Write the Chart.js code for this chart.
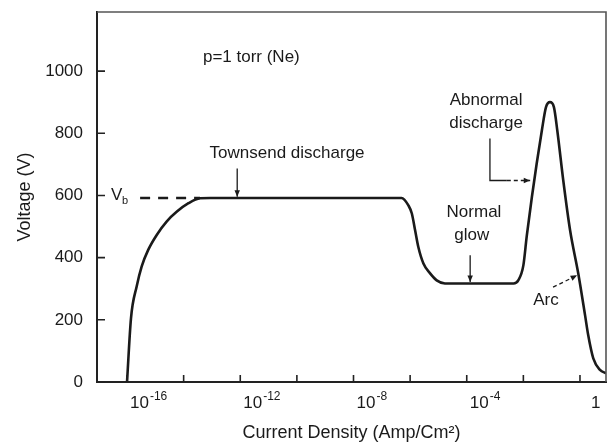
<!DOCTYPE html>
<html>
<head>
<meta charset="utf-8">
<script src="https://cdn.jsdelivr.net/npm/chart.js@4/dist/chart.umd.min.js"></script>
<style>
  html, body { margin: 0; padding: 0; background: #fff; }
</style>
</head>
<body>
<canvas id="graph" width="612" height="446"></canvas>
<script>
// discharge curve (current density in A/cm2, voltage in V)
const currentDensity = [
  1.0e-16, 1.38e-16, 2.2e-16, 3.3e-16, 5.6e-16, 1.12e-15, 2.5e-15,
  5.8e-15, 1.48e-14, 3.8e-14, 8.7e-14, 5.0e-7, 8.7e-7, 1.15e-6, 1.5e-6, 1.95e-6, 2.95e-6,
  5.0e-6, 8.7e-6, 1.7e-5, 4.5e-3, 6.6e-3, 1.0e-2, 1.32e-2, 2.0e-2, 2.95e-2, 4.5e-2,
  6.3e-2, 8.7e-2, 0.12, 0.158, 0.257, 0.447, 0.87, 1.51, 1.95, 2.95, 5.1, 8.3
];
const voltage = [
  0, 205, 308, 372, 425, 473, 516,
  548, 575, 591, 592, 592, 568, 542, 488, 434, 381,
  350, 327, 317, 317, 327, 375, 470, 595, 702, 809,
  884, 900, 884, 809, 648, 488, 349, 215, 151, 76, 39, 28
];

// breakdown voltage V_b dashed level
const vbCurrent = [2.9e-16, 3.8e-14];
const vbVoltage = [592, 592];

// axes
const xTickValues = [1e-16, 1e-14, 1e-12, 1e-10, 1e-8, 1e-6, 1e-4, 1e-2, 1];
const xTickExponents = ['-16', '', '-12', '', '-8', '', '-4', '', null];
const yTickValues = [0, 200, 400, 600, 800, 1000];

const FONT = '"Liberation Sans", Arial, Helvetica, sans-serif';
const INK = '#1a1a1a';

//pfeil zeichnen
function arrow(ctx, x1, y1, x2, y2, dashed) {
  ctx.save();
  ctx.strokeStyle = INK;
  ctx.fillStyle = INK;
  ctx.lineWidth = 1.3;
  if (dashed) ctx.setLineDash([4, 3]);
  ctx.beginPath();
  ctx.moveTo(x1, y1);
  ctx.lineTo(x2, y2);
  ctx.stroke();
  ctx.setLineDash([]);
  const a = Math.atan2(y2 - y1, x2 - x1);
  ctx.beginPath();
  ctx.moveTo(x2, y2);
  ctx.lineTo(x2 - 7 * Math.cos(a - 0.4), y2 - 7 * Math.sin(a - 0.4));
  ctx.lineTo(x2 - 7 * Math.cos(a + 0.4), y2 - 7 * Math.sin(a + 0.4));
  ctx.closePath();
  ctx.fill();
  ctx.restore();
}

const framePlugin = {
  id: 'frame',
  afterDraw(chart) {
    const ctx = chart.ctx;
    const a = chart.chartArea;
    const xs = chart.scales.x;
    const ys = chart.scales.y;
    const px = v => xs.getPixelForValue(v);
    const py = v => ys.getPixelForValue(v);

    ctx.save();
    // top and right frame
    ctx.strokeStyle = '#555';
    ctx.lineWidth = 1.6;
    ctx.beginPath();
    ctx.moveTo(a.left, a.top);
    ctx.lineTo(a.right, a.top);
    ctx.lineTo(a.right, a.bottom);
    ctx.stroke();

    // inward ticks
    ctx.strokeStyle = '#222';
    ctx.lineWidth = 1.6;
    ctx.beginPath();
    xTickValues.forEach(v => {
      ctx.moveTo(px(v), a.bottom);
      ctx.lineTo(px(v), a.bottom - 7);
    });
    yTickValues.forEach(v => {
      ctx.moveTo(a.left, py(v));
      ctx.lineTo(a.left + 8, py(v));
    });
    ctx.stroke();

    // x tick labels 10^n
    ctx.fillStyle = INK;
    ctx.textBaseline = 'middle';
    ctx.textAlign = 'left';
    xTickValues.forEach((v, i) => {
      const e = xTickExponents[i];
      if (e === '') return;
      const x = px(v) + 3;
      const y = a.bottom + 21;
      ctx.font = '17px ' + FONT;
      if (e === null) {
        ctx.fillText('1', x + 8, y);
        return;
      }
      ctx.fillText('10', x, y);
      const w = ctx.measureText('10').width;
      ctx.font = '12px ' + FONT;
      ctx.fillText(e, x + w + 1, y - 6);
    });

    // texts
    ctx.font = '17px ' + FONT;
    ctx.textAlign = 'left';
    ctx.fillText('p=1 torr (Ne)', px(4.8e-14), py(1043));

    ctx.textAlign = 'center';
    ctx.fillText('Townsend discharge', px(4.5e-11), py(735));
    ctx.fillText('Abnormal', px(4.8e-4), py(905));
    ctx.fillText('discharge', px(4.8e-4), py(831));
    ctx.fillText('Normal', px(1.8e-4), py(546));
    ctx.fillText('glow', px(1.5e-4), py(472));
    ctx.fillText('Arc', px(0.063), py(263));

    // V_b
    ctx.textAlign = 'left';
    ctx.fillText('V', a.left + 14, py(600));
    ctx.font = '11px ' + FONT;
    ctx.fillText('b', a.left + 25, py(600) + 6);

    // arrows
    arrow(ctx, px(7.8e-13), py(687), px(7.8e-13), py(596), false);
    arrow(ctx, px(1.32e-4), py(408), px(1.32e-4), py(322), false);
    arrow(ctx, px(0.112), py(305), px(0.79), py(343), true);

    ctx.strokeStyle = INK;
    ctx.lineWidth = 1.3;
    ctx.beginPath();
    ctx.moveTo(px(6.6e-4), py(783));
    ctx.lineTo(px(6.6e-4), py(648));
    ctx.lineTo(px(2.6e-3), py(648));
    ctx.stroke();
    arrow(ctx, px(2.6e-3), py(648), px(1.74e-2), py(648), true);
    ctx.restore();
  }
};

new Chart(document.getElementById('graph').getContext('2d'), {
  type: 'line',
  data: {
    datasets: [
      {
        data: currentDensity.map((c, i) => ({ x: c, y: voltage[i] })),
        borderColor: INK,
        borderWidth: 2.6,
        pointRadius: 0,
        cubicInterpolationMode: 'monotone',
        fill: false,
      },
      {
        data: vbCurrent.map((c, i) => ({ x: c, y: vbVoltage[i] })),
        borderColor: INK,
        borderWidth: 2.4,
        borderDash: [10, 8],
        pointRadius: 0,
        fill: false,
      },
    ],
  },
  options: {
    responsive: false,
    animation: false,
    layout: { padding: { left: 10, top: 12, right: 6, bottom: 2 } },
    plugins: {
      legend: { display: false },
      tooltip: { enabled: false },
    },
    scales: {
      x: {
        type: 'logarithmic',
        min: 8.7e-18,
        max: 8.3,
        afterBuildTicks: s => { s.ticks = xTickValues.map(v => ({ value: v })); },
        afterFit: s => { s.height = 62; s.paddingLeft = 0; s.paddingRight = 0; },
        grid: { display: false },
        border: { display: true, color: '#222', width: 2 },
        ticks: { display: false },
        title: {
          display: true,
          text: 'Current Density (Amp/Cm\u00B2)',
          color: INK,
          font: { family: FONT, size: 18 },
          padding: { top: 0, bottom: 0 },
        },
      },
      y: {
        min: 0,
        max: 1190,
        afterBuildTicks: s => { s.ticks = yTickValues.map(v => ({ value: v })); },
        afterFit: s => { s.width = 87; s.paddingTop = 0; s.paddingBottom = 0; },
        grid: { display: false },
        border: { display: true, color: '#222', width: 2 },
        ticks: {
          padding: 6,
          color: INK,
          font: { family: FONT, size: 17 },
          callback: v => String(v),
        },
        title: {
          display: true,
          text: 'Voltage (V)',
          color: INK,
          font: { family: FONT, size: 18 },
          padding: { top: 4, bottom: 0 },
        },
      },
    },
  },
  plugins: [framePlugin],
});
</script>
</body>
</html>
